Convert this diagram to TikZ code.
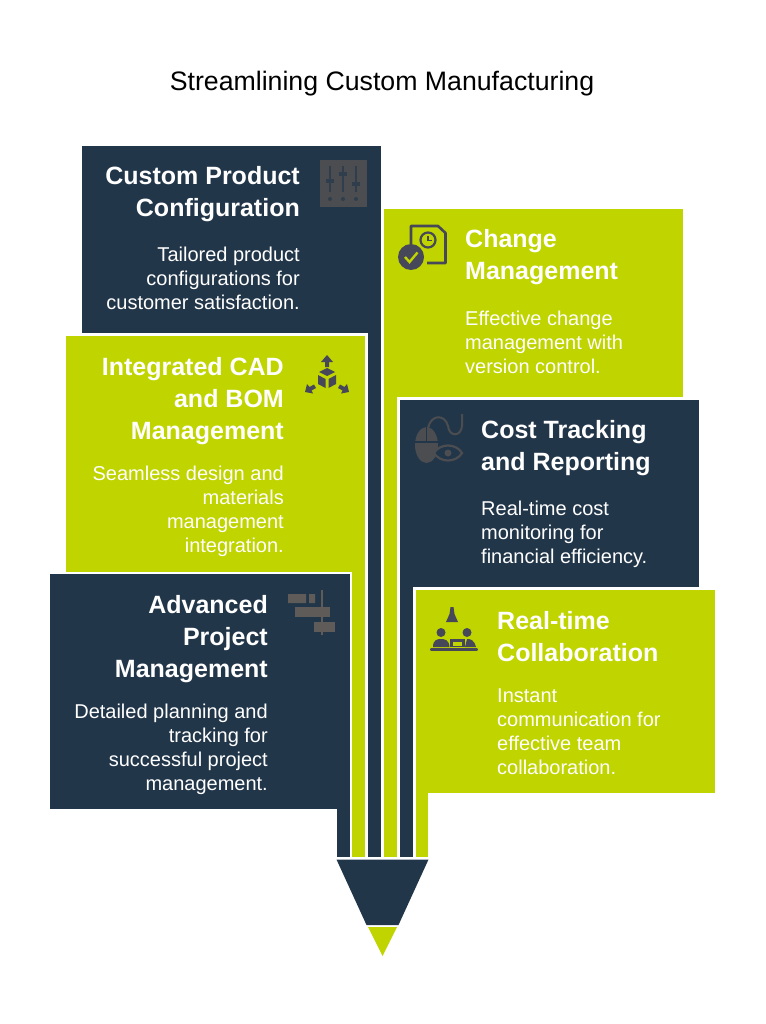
\documentclass[tikz,border=0pt]{standalone}
\usepackage{fontspec}
\setmainfont{Liberation Sans}
\definecolor{navy}{HTML}{22364A}
\definecolor{lime}{HTML}{C0D400}
\definecolor{inkgreen}{HTML}{47475A}
\definecolor{inkdark}{HTML}{4C4D50}
\definecolor{inkgantt}{HTML}{5E5B58}
\tikzset{
  card/.style={draw=white,line width=2pt,line join=miter},
  navycard/.style={card,fill=navy},
  limecard/.style={card,fill=lime},
  head/.style={inner sep=0pt,text=white,font=\fontsize{25}{32}\selectfont\bfseries},
  bodytxt/.style={inner sep=0pt,text=white,font=\fontsize{20}{24}\selectfont},
  headR/.style={head,anchor=north east,align=right},
  headL/.style={head,anchor=north west,align=left},
  bodyR/.style={bodytxt,anchor=north east,align=right},
  bodyL/.style={bodytxt,anchor=north west,align=left},
}
\begin{document}
\begin{tikzpicture}[x=1pt,y=-1pt]
\useasboundingbox (0,0) rectangle (765,1024);
\fill[white] (0,0) rectangle (765,1024);
\node[inner sep=0pt,font=\fontsize{26.7}{30}\selectfont] (title) at (382,84) {Streamlining Custom Manufacturing};
% cards with stems
\draw[navycard] (81,145) -- (382,145) -- (382,858) -- (367,858) -- (367,334) -- (81,334) -- cycle;
\draw[limecard] (383,208) -- (684,208) -- (684,398) -- (398,398) -- (398,858) -- (383,858) -- cycle;
\draw[limecard] (65,335) -- (366,335) -- (366,858) -- (351,858) -- (351,573) -- (65,573) -- cycle;
\draw[navycard] (399,399) -- (700,399) -- (700,588) -- (414,588) -- (414,858) -- (399,858) -- cycle;
\draw[navycard] (49,573) -- (351,573) -- (351,858) -- (336,858) -- (336,810) -- (49,810) -- cycle;
\draw[limecard] (415,589) -- (716,589) -- (716,794) -- (429,794) -- (429,858) -- (415,858) -- cycle;
% pencil tip
\fill[navy] (336.5,859.5) -- (428.5,859.5) -- (398.5,925) -- (366.5,925) -- cycle;
\fill[lime] (368,927) -- (397,927) -- (382.5,956) -- cycle;
% text
\node[headR] (h1) at (300,166) {Custom Product\\Configuration};
\node[bodyR] (b1) at (300,247) {Tailored product\\configurations for\\customer satisfaction.};
\node[headL] (h2) at (465,229) {Change\\Management};
\node[bodyL] (b2) at (465,311) {Effective change\\management with\\version control.};
\node[headR] (h3) at (284,357) {Integrated CAD\\and BOM\\Management};
\node[bodyR] (b3) at (284,466) {Seamless design and\\materials\\management\\integration.};
\node[headL] (h4) at (481,420) {Cost Tracking\\and Reporting};
\node[bodyL] (b4) at (481,501) {Real-time cost\\monitoring for\\financial efficiency.};
\node[headR] (h5) at (268,595) {Advanced\\Project\\Management};
\node[bodyR] (b5) at (268,704) {Detailed planning and\\tracking for\\successful project\\management.};
\node[headL] (h6) at (497,611) {Real-time\\Collaboration};
\node[bodyL] (b6) at (497,689) {Instant\\communication for\\effective team\\collaboration.};
% icon 1: sliders
\fill[inkdark] (319.5,160) rectangle (366.5,207.5);
\begin{scope}[navy!70!inkdark,line width=1.8pt]
\draw (330,166) -- (330,192); \draw (343,166) -- (343,192); \draw (356,166) -- (356,192);
\fill (326,179) rectangle (334,183); \fill (339,172) rectangle (347,176); \fill (352,182) rectangle (360,186);
\fill (330,199) circle (2); \fill (343,199) circle (2); \fill (356,199) circle (2);
\end{scope}
% icon 2: document, clock, check
\draw[inkgreen,line width=2.6pt,line join=round] (411,244) -- (411,226) -- (438,226) -- (445.5,233) -- (445.5,263) -- (427,263);
\draw[inkgreen,line width=2.2pt] (428,240) circle (7.5);
\draw[inkgreen,line width=1.6pt] (428,235.5) -- (428,240.5) -- (432,240.5);
\fill[inkgreen] (411,257) circle (13);
\draw[lime,line width=2.4pt] (405,257) -- (409.5,262) -- (417.5,252.5);
% icon 3: cube and arrows
\fill[inkgreen] (327,368) -- (335,372) -- (327,376) -- (319,372) -- cycle;
\fill[inkgreen] (318,375) -- (325.5,379) -- (325.5,388) -- (318,384) -- cycle;
\fill[inkgreen] (336,375) -- (328.5,379) -- (328.5,388) -- (336,384) -- cycle;
\fill[inkgreen] (327,355) -- (333,362) -- (329,362) -- (329,367) -- (325,367) -- (325,362) -- (321,362) -- cycle;
\fill[inkgreen] (305,392) -- (307,384) -- (309.5,387) -- (314,384.5) -- (316,388) -- (311.5,390.5) -- (313,393.5) -- cycle;
\fill[inkgreen] (349,392) -- (347,384) -- (344.5,387) -- (340,384.5) -- (338,388) -- (342.5,390.5) -- (341,393.5) -- cycle;
% icon 4: mouse, cable, eye
\fill[inkdark] (426.5,445) ellipse (11.5 and 18);
\draw[navy,line width=1.2pt] (415,442) -- (438,442) (426.5,427) -- (426.5,442);
\draw[inkdark,line width=2pt] (428,428) .. controls (431,414) and (445,414) .. (448,426) .. controls (449,437) and (461,437) .. (462,426) -- (462,414);
\fill[navy] (434,453) .. controls (440,441) and (456,441) .. (462,453) .. controls (456,465) and (440,465) .. (434,453) -- cycle;
\draw[inkdark,line width=2.2pt] (434,453) .. controls (440,443) and (456,443) .. (462,453) .. controls (456,463) and (440,463) .. (434,453) -- cycle;
\fill[inkdark] (448,453) circle (3.5);
% icon 5: gantt
\fill[inkgantt] (288,594) rectangle (306,603) (309,594) rectangle (315,603);
\fill[inkgantt] (295,607) rectangle (330,617);
\fill[inkgantt] (314,622) rectangle (335,632);
\draw[inkgantt,line width=1.4pt] (322,590) -- (322,635);
% icon 6: collaboration
\fill[inkgreen] (450.5,607) -- (453.5,607) -- (454.5,614) -- (458,622) -- (446,622) -- (449.5,614) -- cycle;
\fill[inkgreen] (441,632.5) circle (4.5) (467,632.5) circle (4.5);
\fill[inkgreen] (433,647) .. controls (433,640) and (437,639) .. (441,639) .. controls (445,639) and (449,640) .. (449.5,647) -- cycle;
\fill[inkgreen] (465,647) -- (467,639) .. controls (471,639) and (474,640) .. (476,647) -- cycle;
\fill[inkgreen] (450,639) rectangle (465,647);
\fill[lime] (453,641.5) rectangle (462,646);
\draw[inkgreen,line width=2.2pt,line cap=round] (431,649.5) -- (477,649.5);
\end{tikzpicture}
\end{document}
